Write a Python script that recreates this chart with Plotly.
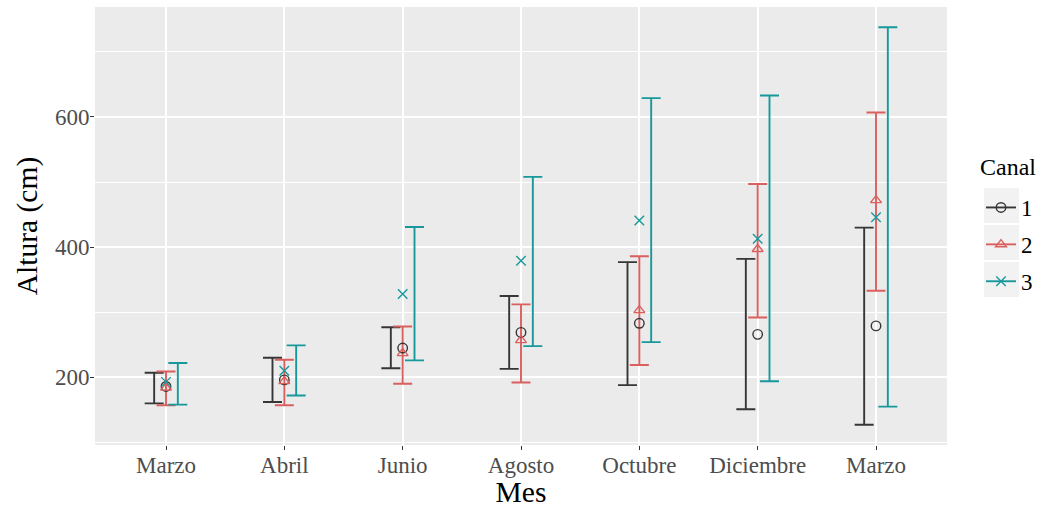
import plotly.graph_objects as go

# Meses de muestreo (el último "Marzo" corresponde al año siguiente)
meses = ["Marzo", "Abril", "Junio", "Agosto", "Octubre", "Diciembre", "Marzo"]
pos = [1, 2, 3, 4, 5, 6, 7]

canales = ["1", "2", "3"]

# Altura media y extremos (cm) por canal
media_1 = [186, 196, 245, 269, 283, 266, 279]
min_1 = [160, 162, 214, 213, 188, 151, 127]
max_1 = [207, 230, 277, 325, 377, 382, 430]

media_2 = [184, 194, 237, 257, 303, 397, 472]
min_2 = [157, 157, 190, 192, 219, 292, 333]
max_2 = [209, 227, 278, 312, 386, 497, 607]

media_3 = [193, 210, 328, 379, 441, 413, 446]
min_3 = [158, 172, 226, 248, 254, 194, 155]
max_3 = [222, 249, 431, 508, 629, 633, 738]

colores = ["#363636", "#D9605F", "#17999C"]
simbolos = ["circle-open", "triangle-up-open", "x-thin-open"]
desplaz = [-0.1, 0.0, 0.1]

series = [(media_1, min_1, max_1), (media_2, min_2, max_2), (media_3, min_3, max_3)]

FUENTE = "Liberation Serif"

# Geometría del panel en píxeles
W, H = 1037, 508
ML, MR, MT, MB = 95, 90, 7, 63
PW, PH = W - ML - MR, H - MT - MB


def px_x(x):
    return (x - ML) / PW


def px_y(y):
    return (H - MB - y) / PH


fig = go.Figure()

# Barras de rango, desplazadas por canal
for (med, lo, hi), col, dx in zip(series, colores, desplaz):
    centro = [(a + b) / 2 for a, b in zip(lo, hi)]
    semi = [(b - a) / 2 for a, b in zip(lo, hi)]
    fig.add_trace(go.Scatter(
        x=[p + dx for p in pos], y=centro, mode="markers",
        marker=dict(size=1, opacity=0),
        error_y=dict(type="data", array=semi, symmetric=True,
                     color=col, thickness=1.9, width=9.5),
        showlegend=False, hoverinfo="skip",
    ))

# Medias en la posición central de cada mes
for (med, lo, hi), col, sym in zip(series, colores, simbolos):
    fig.add_trace(go.Scatter(
        x=pos, y=med, mode="markers",
        marker=dict(symbol=sym, size=9.5, color=col,
                    line=dict(color=col, width=1.4)),
        showlegend=False,
    ))

# Entradas de la leyenda
for nombre, col, sym in zip(canales, colores, simbolos):
    fig.add_trace(go.Scatter(
        x=[None], y=[None], mode="lines+markers", name=nombre,
        legendgroup=nombre,
        line=dict(color=col, width=1.9),
        marker=dict(symbol=sym, size=9.5, color=col,
                    line=dict(color=col, width=1.4)),
    ))

# Fondos grises de las claves de la leyenda
for k in range(3):
    fig.add_shape(type="rect", xref="paper", yref="paper",
                  x0=px_x(984), x1=px_x(1019),
                  y0=px_y(223 + 37 * k), y1=px_y(188 + 37 * k),
                  fillcolor="#F2F2F2", line=dict(width=0), layer="below")

# Título de la leyenda
fig.add_annotation(text="Canal", xref="paper", yref="paper",
                   x=px_x(978), y=px_y(167), xanchor="left", yanchor="middle",
                   showarrow=False, font=dict(family=FUENTE, size=24, color="black"))

fig.update_layout(
    width=W, height=H,
    margin=dict(l=ML, r=MR, t=MT, b=MB, autoexpand=False),
    paper_bgcolor="white", plot_bgcolor="#EBEBEB",
    font=dict(family=FUENTE, color="#000000"),
    legend=dict(
        font=dict(family=FUENTE, size=23, color="black"),
        x=px_x(981), y=px_y(186), xanchor="left", yanchor="top",
        bgcolor="rgba(0,0,0,0)", tracegroupgap=4, traceorder="grouped",
    ),
    xaxis=dict(
        range=[0.4, 7.6], tickmode="array", tickvals=pos, ticktext=meses,
        showgrid=True, gridcolor="white", gridwidth=1.6, zeroline=False,
        ticks="outside", ticklen=4, tickwidth=1.3, tickcolor="#333333",
        tickfont=dict(family=FUENTE, size=23, color="#4D4D4D"),
        ticklabelstandoff=-5,
        title=dict(text="Mes", font=dict(family=FUENTE, size=29.5, color="black"), standoff=7),
        showline=False, automargin=False,
    ),
    yaxis=dict(
        range=[96, 769], tickmode="array", tickvals=[200, 400, 600],
        showgrid=True, gridcolor="white", gridwidth=1.6, zeroline=False,
        ticks="outside", ticklen=4, tickwidth=1.3, tickcolor="#333333",
        tickfont=dict(family=FUENTE, size=23, color="#4D4D4D"),
        ticklabelstandoff=-4,
        minor=dict(tickvals=[100, 300, 500, 700], showgrid=True,
                   gridcolor="white", gridwidth=0.8, ticks=""),
        title=dict(text="Altura (cm)", font=dict(family=FUENTE, size=29.5, color="black"), standoff=8),
        showline=False, automargin=False,
    ),
)

fig.write_html("out.html")
